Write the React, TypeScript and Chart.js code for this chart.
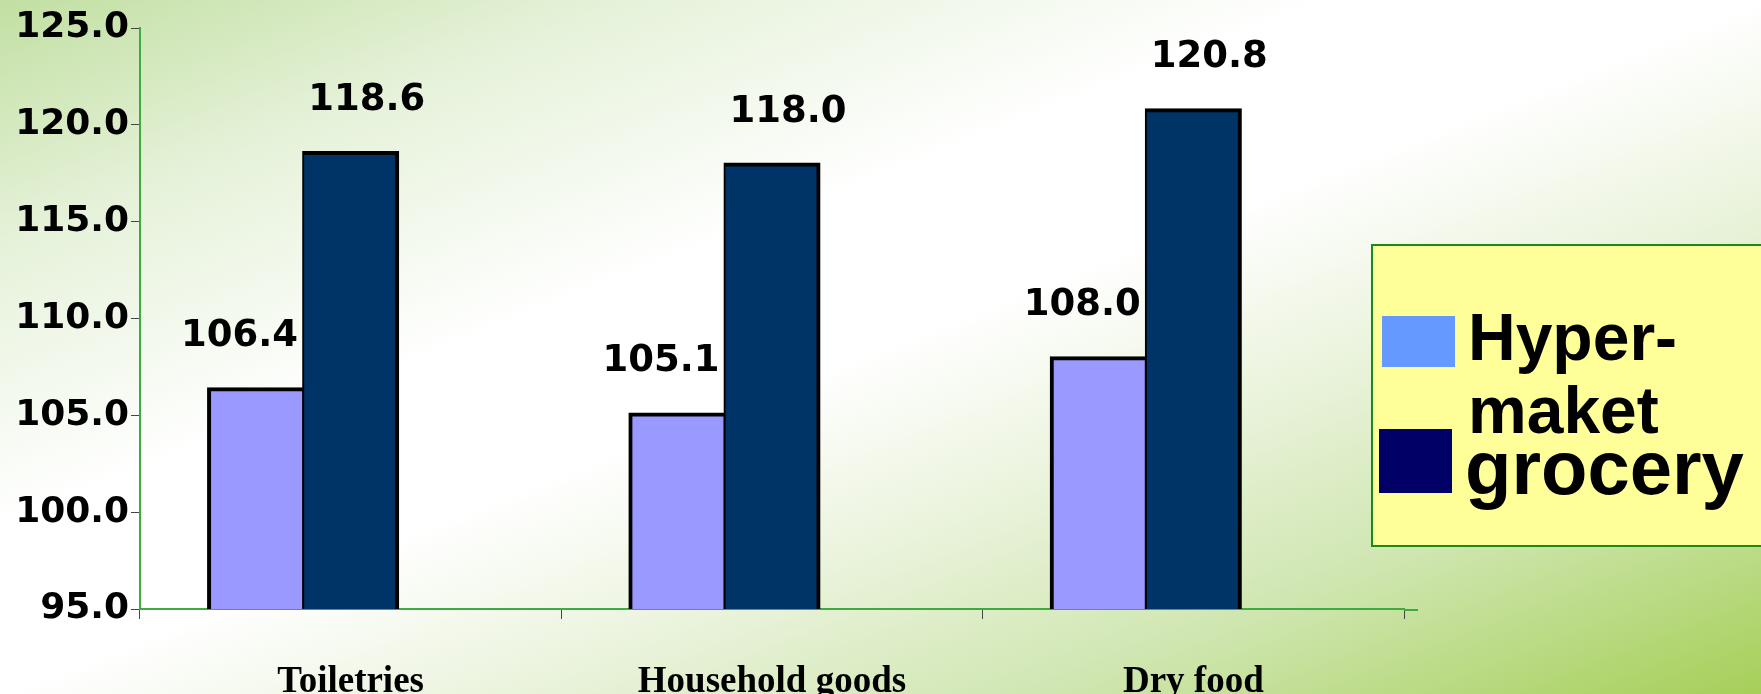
import React, { useEffect, useRef } from "react";
import { Chart, registerables } from "chart.js";

Chart.register(...registerables);

const categories = ["Toiletries", "Household goods", "Dry food"];
const hypermarket = [106.4, 105.1, 108.0];
const grocery = [118.6, 118.0, 120.8];
const seriesNames = ["Hyper-maket", "grocery"];
const yMin = 95;
const yMax = 125;
const yStep = 5;

const valueLabels = {
  id: "valueLabels",
  afterDatasetsDraw(chart: any) {
    const ctx = chart.ctx;
    ctx.save();
    ctx.font = "bold 37px 'DejaVu Sans'";
    ctx.fillStyle = "#000";
    ctx.textAlign = "center";
    ctx.textBaseline = "alphabetic";
    const dxs = [-16, 16];
    [0, 1].forEach((di) => {
      const meta = chart.getDatasetMeta(di);
      const ds = chart.data.datasets[di];
      meta.data.forEach((bar: any, i: number) => {
        const v = ds.data[i];
        if (v == null) return;
        ctx.fillText(Number(v).toFixed(1), bar.x + dxs[di], bar.y - 42);
      });
    });
    ctx.restore();
  },
};

const axisExtension = {
  id: "axisExtension",
  afterDraw(chart: any) {
    const { ctx, chartArea } = chart;
    ctx.save();
    ctx.strokeStyle = "#3faa3f";
    ctx.lineWidth = 2;
    ctx.beginPath();
    ctx.moveTo(chartArea.right, chartArea.bottom + 1);
    ctx.lineTo(chartArea.right + 14, chartArea.bottom + 1);
    ctx.stroke();
    ctx.restore();
  },
};

export default function App() {
  const ref = useRef<HTMLCanvasElement>(null);

  useEffect(() => {
    document.body.style.margin = "0";
    const canvas = ref.current!;
    const chart = new Chart(canvas, {
      type: "bar",
      data: {
        labels: categories,
        datasets: [
          {
            label: seriesNames[0],
            data: hypermarket,
            backgroundColor: "#9999FF",
            borderColor: "#000000",
            borderWidth: { left: 4, top: 4, bottom: 4, right: 2 },
            borderSkipped: false,
          },
          {
            label: seriesNames[1],
            data: grocery,
            backgroundColor: "#003366",
            borderColor: "#000000",
            borderWidth: { left: 2, top: 4, bottom: 4, right: 4 },
            borderSkipped: false,
          },
          {
            label: "",
            data: [null, null, null],
            backgroundColor: "rgba(0,0,0,0)",
          },
        ],
      },
      options: {
        animation: false,
        responsive: false,
        devicePixelRatio: 1,
        layout: { padding: { top: 28, right: 357, left: 0, bottom: 0 } },
        datasets: {
          bar: { barPercentage: 1, categoryPercentage: 0.677, inflateAmount: 1 },
        },
        plugins: {
          legend: { display: false },
          tooltip: { enabled: false },
        },
        scales: {
          x: {
            afterFit: (s: any) => {
              s.height = 85;
            },
            grid: {
              display: true,
              drawOnChartArea: false,
              drawTicks: true,
              tickLength: 10,
              color: "#444444",
              lineWidth: 1,
              offset: true,
            },
            border: { display: true, color: "#3faa3f", width: 2 },
            ticks: {
              color: "#000",
              padding: 41,
              font: { family: "'Liberation Serif', 'Times New Roman', serif", size: 37, weight: "bold" },
            },
          },
          y: {
            min: yMin,
            max: yMax,
            afterFit: (s: any) => {
              s.width = 140;
            },
            grid: {
              display: true,
              drawOnChartArea: false,
              drawTicks: true,
              tickLength: 9,
              color: "#444444",
              lineWidth: 1,
            },
            border: { display: true, color: "#3faa3f", width: 2 },
            ticks: {
              stepSize: yStep,
              color: "#000",
              padding: 2,
              callback: (v: any) => Number(v).toFixed(1),
              font: { family: "'DejaVu Sans', Verdana, sans-serif", size: 36, weight: "bold" },
            },
          },
        },
      },
      plugins: [valueLabels, axisExtension],
    });
    return () => chart.destroy();
  }, []);

  const legendFont = "'Liberation Sans', Arial, sans-serif";

  return (
    <div
      style={{
        position: "fixed",
        left: 0,
        top: 0,
        width: 1761,
        height: 694,
        overflow: "hidden",
        background:
          "linear-gradient(to bottom right, #c2dfa2 0%, #e6f2da 18%, #ffffff 38%, #ffffff 50%, #eef5e2 62%, #cfe6b0 80%, #a6cf58 100%)",
      }}
    >
      <canvas
        ref={ref}
        width={1761}
        height={694}
        style={{ position: "absolute", left: 0, top: 0, width: 1761, height: 694, display: "block" }}
      />
      <div
        style={{
          position: "absolute",
          left: 1371,
          top: 244,
          width: 420,
          height: 299,
          background: "#FFFF99",
          border: "2px solid #1a8a1a",
        }}
      >
        <div style={{ position: "absolute", left: 9, top: 70, width: 73, height: 51, background: "#6699FF" }} />
        <div style={{ position: "absolute", left: 6, top: 183, width: 73, height: 64, background: "#000066" }} />
        <div
          style={{
            position: "absolute",
            left: 95,
            top: 58,
            fontFamily: legendFont,
            fontWeight: "bold",
            fontSize: 66,
            lineHeight: "66px",
            color: "#000",
            whiteSpace: "nowrap",
          }}
        >
          Hyper-
        </div>
        <div
          style={{
            position: "absolute",
            left: 95,
            top: 131,
            fontFamily: legendFont,
            fontWeight: "bold",
            fontSize: 66,
            lineHeight: "66px",
            color: "#000",
            whiteSpace: "nowrap",
          }}
        >
          maket
        </div>
        <div
          style={{
            position: "absolute",
            left: 92,
            top: 184,
            fontFamily: legendFont,
            fontWeight: "bold",
            fontSize: 76,
            lineHeight: "76px",
            color: "#000",
            whiteSpace: "nowrap",
          }}
        >
          grocery
        </div>
      </div>
    </div>
  );
}
